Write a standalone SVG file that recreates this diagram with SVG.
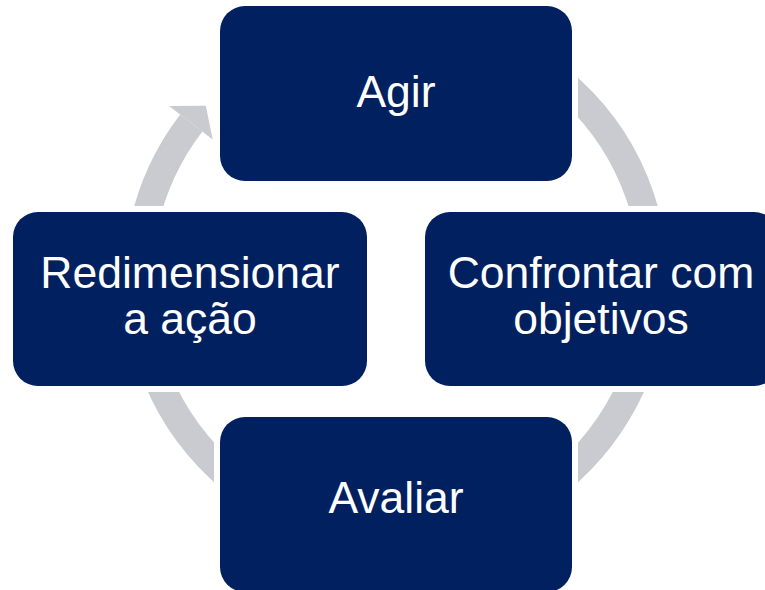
<svg xmlns="http://www.w3.org/2000/svg" width="765" height="590" viewBox="0 0 765 590">
  <style>
    .node { fill: #002060; stroke: #ffffff; stroke-width: 12; paint-order: stroke fill; }
    .label { font-family: "Liberation Sans", Arial, sans-serif; font-size: 44.5px; fill: #ffffff; text-anchor: middle; }
    .ring { fill: none; stroke: #CACBD0; stroke-width: 28; }
    .head { fill: #CACBD0; }
  </style>
  <rect width="765" height="590" fill="#ffffff"/>
  <g id="connectors">
    <path class="ring" d="M 351.2 25.9 A 258 258 0 1 1 191.3 122.9"/>
    <polygon class="head" points="169.1,105.9 205.8,105.7 212.7,139.4"/>
  </g>
  <g id="node-agir">
    <rect class="node" x="220" y="6" width="352" height="175" rx="25" ry="25"/>
    <text class="label" x="396" y="107">Agir</text>
  </g>
  <g id="node-redimensionar">
    <rect class="node" x="13" y="212" width="354" height="174" rx="25" ry="25"/>
    <text class="label" x="190" y="288">Redimensionar</text>
    <text class="label" x="190" y="334">a ação</text>
  </g>
  <g id="node-confrontar">
    <rect class="node" x="425" y="212" width="354" height="174" rx="25" ry="25"/>
    <text class="label" x="601" y="288">Confrontar com</text>
    <text class="label" x="601" y="334">objetivos</text>
  </g>
  <g id="node-avaliar">
    <rect class="node" x="220" y="417" width="352" height="175" rx="25" ry="25"/>
    <text class="label" x="396" y="513">Avaliar</text>
  </g>
</svg>
